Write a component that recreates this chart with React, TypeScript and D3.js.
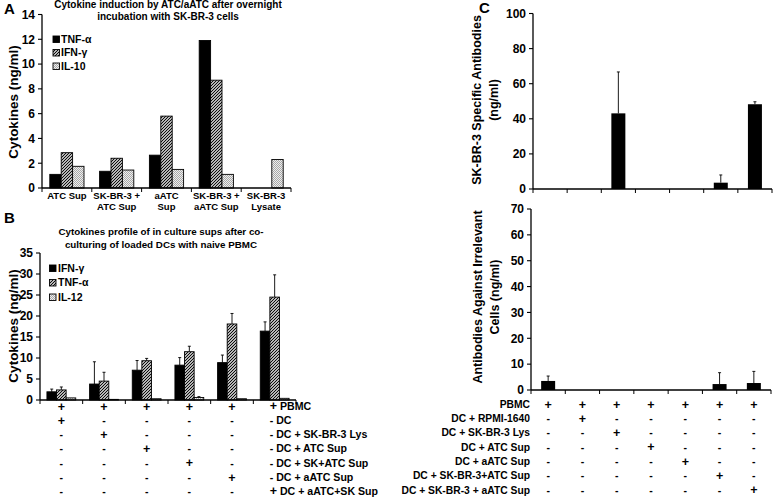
import React from "react";
import * as d3 from "d3";

// ---------- Panel A data ----------
const aCategories = [["ATC Sup"], ["SK-BR-3 +", "ATC Sup"], ["aATC", "Sup"], ["SK-BR-3 +", "aATC Sup"], ["SK-BR-3", "Lysate"]];
const aSeriesNames = ["TNF-α", "IFN-γ", "IL-10"];
const aTNF = [1.1, 1.35, 2.65, 11.9, 0];
const aIFN = [2.85, 2.4, 5.8, 8.7, 0];
const aIL10 = [1.75, 1.45, 1.5, 1.1, 2.3];
const aTicks = [0, 2, 4, 6, 8, 10, 12, 14];
const aTitle = ["Cytokine induction by ATC/aATC after overnight", "incubation with SK-BR-3 cells"];

// ---------- Panel B data ----------
const bSeriesNames = ["IFN-γ", "TNF-α", "IL-12"];
const bIFN = [1.95, 3.8, 7.1, 8.3, 8.9, 16.4];
const bIFNErr = [0.65, 5.3, 2.3, 1.8, 1.8, 2.2];
const bTNF = [2.4, 4.5, 9.35, 11.5, 18.1, 24.5];
const bTNFErr = [0.7, 2.1, 0.55, 1.3, 2.5, 5.3];
const bIL12 = [0.5, 0.15, 0.3, 0.6, 0.3, 0.4];
const bIL12Err = [0.1, 0, 0.05, 0.2, 0.1, 0.1];
const bTicks = [0, 5, 10, 15, 20, 25, 30, 35];
const bTitle = ["Cytokines profile of in culture sups after co-", "culturing of loaded DCs with naive PBMC"];
const bRows = ["PBMC", "DC", "DC + SK-BR-3 Lys", "DC + ATC Sup", "DC + SK+ATC Sup", "DC + aATC Sup", "DC + aATC+SK Sup"];
const bMatrix = [
  "++++++",
  "+-----",
  "-+----",
  "--+---",
  "---+--",
  "----+-",
  "-----+",
];

// ---------- Panel C data ----------
const cTopValues = [0, 0, 43.1, 0, 0, 3.6, 48.3];
const cTopErr = [0, 0, 23.6, 0, 0, 4.4, 1.4];
const cTopTicks = [0, 20, 40, 60, 80, 100];
const cBotValues = [3.5, 0, 0, 0, 0, 2.3, 2.7];
const cBotErr = [1.9, 0, 0, 0, 0, 4.4, 4.5];
const cBotTicks = [0, 10, 20, 30, 40, 50, 60, 70];
const cRows = ["PBMC", "DC + RPMI-1640", "DC + SK-BR-3 Lys", "DC + ATC Sup", "DC + aATC Sup", "DC + SK-BR-3+ATC Sup", "DC + SK-BR-3 + aATC Sup"];
const cMatrix = [
  "+++++++",
  "-+-----",
  "--+----",
  "---+---",
  "----+--",
  "-----+-",
  "------+",
];

const FONT = "'Liberation Sans', Arial, Helvetica, sans-serif";
const fills = ["#000", "url(#hatch)", "url(#dots)"];

function YAxis({ scale, ticks, x, fs = 12 }: any) {
  const [r0, r1] = scale.range();
  return (
    <g>
      <line x1={x} x2={x} y1={r0} y2={r1} stroke="#000" strokeWidth={1.3} />
      {ticks.map((t: number) => (
        <g key={t}>
          <line x1={x - 4} x2={x} y1={scale(t)} y2={scale(t)} stroke="#000" strokeWidth={1.1} />
          <text x={x - 7} y={scale(t)} dy="0.36em" textAnchor="end" fontSize={fs} fontWeight="bold">{t}</text>
        </g>
      ))}
    </g>
  );
}

function XAxis({ band, y, n }: any) {
  const [r0, r1] = band.range();
  const bounds = d3.range(n + 1).map((i) => r0 + i * band.step());
  return (
    <g>
      <line x1={r0} x2={r1} y1={y} y2={y} stroke="#000" strokeWidth={1.3} />
      {bounds.map((b, i) => (
        <line key={i} x1={b} x2={b} y1={y} y2={y + 4} stroke="#000" strokeWidth={1} />
      ))}
    </g>
  );
}

function ErrBar({ x, y0, y1 }: any) {
  if (Math.abs(y0 - y1) < 0.5) return null;
  return (
    <g stroke="#000" strokeWidth={0.9}>
      <line x1={x} x2={x} y1={y0} y2={y1} />
      <line x1={x - 1.5} x2={x + 1.5} y1={y1} y2={y1} />
    </g>
  );
}

export default function App() {
  // Panel A
  const ax = d3.scaleBand<number>().domain(d3.range(5)).range([42, 291]).paddingInner(0).paddingOuter(0);
  const ay = d3.scaleLinear().domain([0, 14]).range([188, 14.5]);
  const aSeries = [aTNF, aIFN, aIL10];
  const aBarW = 11.4;

  // Panel B
  const bx = d3.scaleBand<number>().domain(d3.range(6)).range([40, 296]);
  const by = d3.scaleLinear().domain([0, 35]).range([400, 253]);
  const bSeries = [bIFN, bTNF, bIL12];
  const bErrs = [bIFNErr, bTNFErr, bIL12Err];
  const bBarW = 9.6;
  const bRowY = (i: number) => 406 + i * 14.2;

  // Panel C
  const cxTop = d3.scaleBand<number>().domain(d3.range(7)).range([533, 772]);
  const cyTop = d3.scaleLinear().domain([0, 100]).range([189, 13.5]);
  const cxBot = d3.scaleBand<number>().domain(d3.range(7)).range([531, 771]);
  const cyBot = d3.scaleLinear().domain([0, 70]).range([390, 209]);
  const cBarW = 14;
  const cRowY = (i: number) => 404 + i * 14.3;

  return (
    <svg width={773} height={497} style={{ position: "absolute", left: 0, top: 0, background: "#fff" }} fontFamily={FONT}>
      <defs>
        <pattern id="hatch" patternUnits="userSpaceOnUse" width={3} height={3}>
          <rect width={3} height={3} fill="#fff" />
          <path d="M-1,1 L1,-1 M0,3 L3,0 M2,4 L4,2" stroke="#000" strokeWidth={1.1} />
        </pattern>
        <pattern id="dots" patternUnits="userSpaceOnUse" width={2} height={2}>
          <rect width={2} height={2} fill="#eeeeee" />
          <rect x={0} y={0} width={1} height={1} fill="#a8a8a8" />
          <rect x={1} y={1} width={1} height={1} fill="#a8a8a8" />
        </pattern>
      </defs>
      <rect width={773} height={497} fill="#fff" />

      {/* ================= Panel A ================= */}
      <text x={4} y={14} fontSize={15} fontWeight="bold">A</text>
      {aTitle.map((t, i) => (
        <text key={i} x={168} y={8 + i * 12} textAnchor="middle" fontSize={10} fontWeight="bold">{t}</text>
      ))}
      <text transform={`translate(13,102) rotate(-90)`} textAnchor="middle" dominantBaseline="central" fontSize={13.5} fontWeight="bold">Cytokines (ng/ml)</text>
      {aSeries.map((s, si) =>
        s.map((v, i) =>
          v > 0 ? (
            <rect key={`${si}-${i}`} x={ax(i)! + ax.bandwidth() / 2 - 1.5 * aBarW + si * aBarW} y={ay(v)} width={aBarW} height={ay(0) - ay(v)} fill={fills[si]} stroke="#000" strokeWidth={0.9} />
          ) : null
        )
      )}
      <YAxis scale={ay} ticks={aTicks} x={42} />
      <XAxis band={ax} y={188} n={5} />
      {aCategories.map((lines, i) =>
        lines.map((l, j) => (
          <text key={`${i}-${j}`} x={ax(i)! + ax.bandwidth() / 2} y={198.5 + j * 11} textAnchor="middle" fontSize={9.5} fontWeight="bold">{l}</text>
        ))
      )}
      {aSeriesNames.map((n, i) => (
        <g key={n}>
          <rect x={53} y={36 + i * 13.5} width={6.5} height={6.5} fill={fills[i]} stroke="#000" strokeWidth={0.9} />
          <text x={61} y={39.3 + i * 13.5} dy="0.35em" fontSize={10.5} fontWeight="bold">{n}</text>
        </g>
      ))}

      {/* ================= Panel B ================= */}
      <text x={4} y={223} fontSize={15} fontWeight="bold">B</text>
      {bTitle.map((t, i) => (
        <text key={i} x={161} y={235 + i * 12.5} textAnchor="middle" fontSize={9.8} fontWeight="bold">{t}</text>
      ))}
      <text transform={`translate(13,326) rotate(-90)`} textAnchor="middle" dominantBaseline="central" fontSize={13.5} fontWeight="bold">Cytokines (ng/ml)</text>
      {bSeries.map((s, si) =>
        s.map((v, i) => {
          const x0 = bx(i)! + bx.bandwidth() / 2 - 1.5 * bBarW + si * bBarW;
          return (
            <g key={`${si}-${i}`}>
              <ErrBar x={x0 + bBarW / 2} y0={by(v)} y1={by(v + bErrs[si][i])} />
              <rect x={x0} y={by(v)} width={bBarW} height={by(0) - by(v)} fill={fills[si]} stroke="#000" strokeWidth={0.9} />
            </g>
          );
        })
      )}
      <YAxis scale={by} ticks={bTicks} x={40} />
      <XAxis band={bx} y={400} n={6} />
      {bSeriesNames.map((n, i) => (
        <g key={n}>
          <rect x={49.5} y={265 + i * 14.5} width={6.5} height={6.5} fill={fills[i]} stroke="#000" strokeWidth={0.9} />
          <text x={58} y={268.3 + i * 14.5} dy="0.35em" fontSize={10.5} fontWeight="bold">{n}</text>
        </g>
      ))}
      {bMatrix.map((row, r) =>
        row.split("").map((sym, c) =>
          c < 5 ? (
            <text key={`${r}-${c}`} x={bx(c)! + bx.bandwidth() / 2} y={bRowY(r)} dy="0.36em" textAnchor="middle" fontSize={sym === "+" ? 12.5 : 10.5} fontWeight="bold">{sym}</text>
          ) : (
            <text key={`${r}-${c}`} x={bx(c)! + bx.bandwidth() / 2 - 5} y={bRowY(r)} dy="0.36em" fontSize={10.6} fontWeight="bold">
              <tspan fontSize={sym === "+" ? 12.5 : 10.6}>{sym}</tspan>
              <tspan>{" " + bRows[r]}</tspan>
            </text>
          )
        )
      )}

      {/* ================= Panel C ================= */}
      <text x={479} y={13} fontSize={15} fontWeight="bold">C</text>
      <text transform={`translate(477,100) rotate(-90)`} textAnchor="middle" dominantBaseline="central" fontSize={12.5} fontWeight="bold">SK-BR-3 Specific Antibodies</text>
      <text transform={`translate(494,100) rotate(-90)`} textAnchor="middle" dominantBaseline="central" fontSize={12.5} fontWeight="bold">(ng/ml)</text>
      {cTopValues.map((v, i) => {
        if (v <= 0) return null;
        const x0 = cxTop(i)! + cxTop.bandwidth() / 2 - cBarW / 2;
        return (
          <g key={i}>
            <ErrBar x={x0 + cBarW / 2} y0={cyTop(v)} y1={cyTop(v + cTopErr[i])} />
            <rect x={x0} y={cyTop(v)} width={cBarW} height={cyTop(0) - cyTop(v)} fill="#000" />
          </g>
        );
      })}
      <YAxis scale={cyTop} ticks={cTopTicks} x={533} fs={12} />
      <XAxis band={cxTop} y={189} n={7} />

      <text transform={`translate(478,297) rotate(-90)`} textAnchor="middle" dominantBaseline="central" fontSize={12.5} fontWeight="bold">Antibodies Against Irrelevant</text>
      <text transform={`translate(495,297) rotate(-90)`} textAnchor="middle" dominantBaseline="central" fontSize={12.5} fontWeight="bold">Cells (ng/ml)</text>
      {cBotValues.map((v, i) => {
        if (v <= 0) return null;
        const x0 = cxBot(i)! + cxBot.bandwidth() / 2 - cBarW / 2;
        return (
          <g key={i}>
            <ErrBar x={x0 + cBarW / 2} y0={cyBot(v)} y1={cyBot(v + cBotErr[i])} />
            <rect x={x0} y={cyBot(v)} width={cBarW} height={cyBot(0) - cyBot(v)} fill="#000" />
          </g>
        );
      })}
      <YAxis scale={cyBot} ticks={cBotTicks} x={531} fs={12} />
      <XAxis band={cxBot} y={390} n={7} />
      {cRows.map((l, r) => (
        <text key={l} x={530} y={cRowY(r)} dy="0.36em" textAnchor="end" fontSize={10.3} fontWeight="bold">{l}</text>
      ))}
      {cMatrix.map((row, r) =>
        row.split("").map((sym, c) => (
          <text key={`${r}-${c}`} x={cxBot(c)! + cxBot.bandwidth() / 2} y={cRowY(r)} dy="0.36em" textAnchor="middle" fontSize={sym === "+" ? 12.5 : 10.5} fontWeight="bold">{sym}</text>
        ))
      )}
    </svg>
  );
}
